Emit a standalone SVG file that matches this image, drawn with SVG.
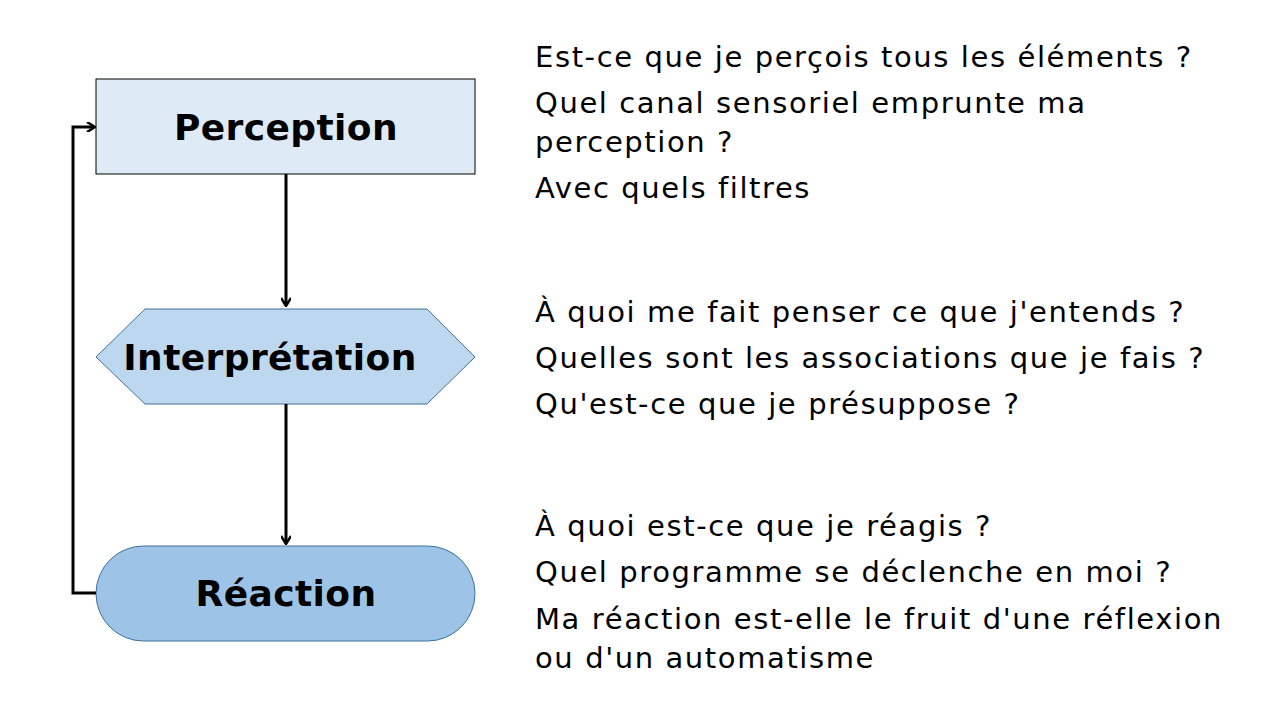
<svg xmlns="http://www.w3.org/2000/svg" width="1280" height="720" viewBox="0 0 1280 720">
<style>
.n{stroke:#41719c;stroke-width:1}
.l{font-family:"DejaVu Sans",Verdana,sans-serif;font-weight:bold;font-size:36px;fill:#000;text-anchor:middle;letter-spacing:0.4px}
.q{font-family:"DejaVu Sans",Verdana,sans-serif;font-size:29px;fill:#000;letter-spacing:1.6px}
.c{stroke:#000;stroke-width:3;fill:none}
</style>
<defs><marker id="a" markerWidth="10" markerHeight="10" refX="8" refY="5" orient="auto" markerUnits="userSpaceOnUse"><path d="M1,0 L9,5 L1,10" fill="none" stroke="#000" stroke-width="2.5"/></marker></defs>
<rect width="1280" height="720" fill="#fff"/>
<g id="perception"><rect x="96" y="79" width="379" height="95" fill="#deebf7" stroke="#000" stroke-width="1"/><text class="l" x="286" y="140">Perception</text></g>
<g id="interpretation"><polygon class="n" points="96,357 145,309 427,309 475,357 427,404 145,404" fill="#bdd7ee"/><text class="l" x="270" y="370">Interprétation</text></g>
<g id="reaction"><rect class="n" x="96" y="546" width="379" height="95" rx="47.5" fill="#9dc3e6"/><text class="l" x="286" y="606">Réaction</text></g>
<g id="connectors">
<line class="c" x1="286" y1="174" x2="286" y2="305" marker-end="url(#a)"/>
<line class="c" x1="286" y1="404" x2="286" y2="543" marker-end="url(#a)"/>
<polyline class="c" points="96,593 73,593 73,127 94,127" marker-end="url(#a)"/>
</g>
<g id="texts">
<text class="q" x="535" y="67">Est-ce que je perçois tous les éléments ?</text>
<text class="q" x="535" y="113">Quel canal sensoriel emprunte ma</text>
<text class="q" x="535" y="152">perception ?</text>
<text class="q" x="535" y="198">Avec quels filtres</text>
<text class="q" x="535" y="322">À quoi me fait penser ce que j'entends ?</text>
<text class="q" x="535" y="368">Quelles sont les associations que je fais ?</text>
<text class="q" x="535" y="414">Qu'est-ce que je présuppose ?</text>
<text class="q" x="535" y="536">À quoi est-ce que je réagis ?</text>
<text class="q" x="535" y="582">Quel programme se déclenche en moi ?</text>
<text class="q" x="535" y="629">Ma réaction est-elle le fruit d'une réflexion</text>
<text class="q" x="535" y="668">ou d'un automatisme</text>
</g>
</svg>
